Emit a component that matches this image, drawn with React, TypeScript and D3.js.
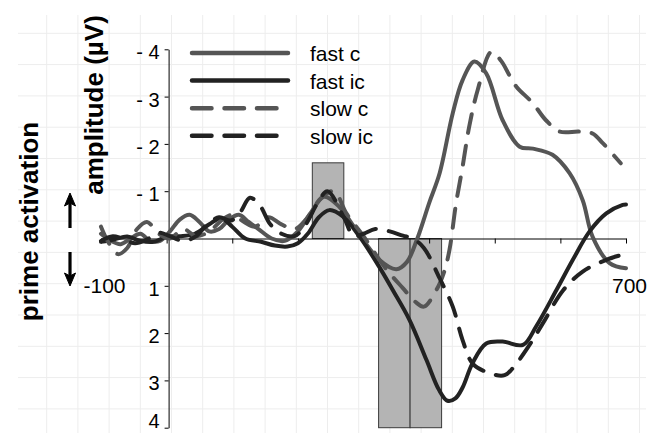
import { useEffect, useRef } from "react";
import * as d3 from "d3";

type Pt = [number, number]; // [time in ms, amplitude in µV]

const seriesNames = ["fast c", "fast ic", "slow c", "slow ic"];
const seriesColors = ["#555555", "#222222", "#555555", "#222222"];
const seriesDashed = [false, false, true, true];

const fastC: Pt[] = [
  [-100, -0.1], [-85, 0.05], [-70, 0.12], [-55, 0.0], [-40, -0.1], [-25, 0.05],
  [-10, 0.05], [5, -0.15], [20, -0.4], [35, -0.5], [50, -0.35], [65, -0.15],
  [80, -0.2], [95, -0.4], [110, -0.5], [125, -0.35], [140, -0.2], [160, 0.0],
  [180, 0.05], [200, -0.15], [220, -0.55], [240, -0.88], [263, -0.67], [289, -0.18],
  [324, 0.45], [350, 0.65], [366, 0.5], [382, 0.0], [400, -0.75], [416, -1.38],
  [436, -2.65], [451, -3.35], [469, -3.74], [487, -3.49], [512, -2.5], [538, -1.94],
  [558, -1.9], [588, -1.77], [614, -1.38], [634, -0.81], [649, -0.04], [675, 0.52],
  [700, 0.63],
];

const fastIc: Pt[] = [
  [-100, 0.07], [-80, 0.02], [-60, -0.04], [-40, 0.05], [-20, 0.07], [0, -0.04],
  [20, -0.05], [43, -0.1], [65, -0.3], [83, -0.43], [100, -0.25], [120, 0.0],
  [144, 0.07], [165, 0.15], [184, 0.17], [200, 0.1], [215, -0.1], [232, -0.45],
  [248, -0.6], [269, -0.46], [294, -0.04], [324, 0.6], [345, 1.1], [370, 1.72],
  [396, 2.57], [415, 3.2], [428, 3.43], [440, 3.38], [451, 3.15], [466, 2.64],
  [487, 2.22], [512, 2.18], [543, 2.25], [563, 1.86], [594, 1.09], [619, 0.45],
  [644, -0.14], [670, -0.53], [695, -0.71], [700, -0.72],
];

const slowC: Pt[] = [
  [-100, -0.25], [-88, 0.1], [-74, 0.33], [-60, 0.2], [-45, -0.2], [-30, -0.35],
  [-12, -0.1], [5, 0.0], [25, -0.2], [45, -0.05], [65, -0.15], [85, -0.4],
  [100, -0.5], [118, -0.35], [135, -0.25], [155, -0.45], [175, -0.3], [195, -0.2],
  [215, -0.45], [235, -0.85], [255, -1.0], [274, -0.53], [300, -0.05], [332, 0.6],
  [360, 1.05], [380, 1.35], [392, 1.44], [411, 1.09], [423, 0.7], [431, 0.24],
  [441, -0.74], [451, -1.52], [461, -2.36], [474, -3.14], [495, -3.95], [510, -3.75],
  [522, -3.46], [533, -3.21], [558, -2.86], [578, -2.5], [599, -2.26], [629, -2.26],
  [649, -2.22], [665, -2.01], [692, -1.59],
];

const slowIc: Pt[] = [
  [-100, 0.05], [-82, -0.05], [-65, 0.02], [-48, 0.1], [-30, 0.02], [-12, -0.12],
  [5, -0.05], [25, 0.05], [45, -0.05], [62, -0.3], [80, -0.45], [98, -0.38],
  [112, -0.55], [127, -0.86], [142, -0.7], [158, -0.3], [175, -0.1], [195, -0.05],
  [212, -0.3], [230, -0.75], [245, -1.0], [270, -0.45], [285, -0.05], [300, -0.1],
  [318, -0.2], [340, -0.15], [360, -0.06], [375, 0.0], [392, 0.2], [416, 0.84],
  [436, 1.44], [451, 2.15], [466, 2.64], [487, 2.82], [515, 2.89], [533, 2.64],
  [553, 2.25], [573, 1.8], [604, 1.1], [634, 0.7], [670, 0.45], [698, 0.33],
];

const allSeries = [fastC, fastIc, slowC, slowIc];

// prime activation bars (ms window, µV)
const barStart = [222, 323, 371];
const barEnd = [270, 371, 419];
const barValue = [-1.6, 4, 4];

const yTicks = [-4, -3, -2, -1, 1, 2, 3, 4];
const xTicks = [-100, 0, 100, 200, 300, 400, 500, 600, 700];
const xLabels = [-100, 700];

const FONT = "'Liberation Sans', Arial, sans-serif";

export default function App() {
  const ref = useRef<SVGSVGElement | null>(null);

  useEffect(() => {
    const width = 656,
      height = 433;
    const svg = d3.select(ref.current);
    svg.selectAll("*").remove();

    const x = d3.scaleLinear().domain([-100, 700]).range([101, 626]);
    const y = d3.scaleLinear().domain([-4, 4]).range([49.3, 427.7]);

    // faint paper grid in the background
    const grid = svg.append("g").attr("stroke", "#ededed").attr("stroke-width", 1);
    grid
      .selectAll("line.h")
      .data(d3.range(13))
      .enter()
      .append("line")
      .attr("x1", 18)
      .attr("x2", 646)
      .attr("y1", k => 33.3 + k * 31.3)
      .attr("y2", k => 33.3 + k * 31.3);
    grid
      .selectAll("line.v")
      .data(d3.range(20))
      .enter()
      .append("line")
      .attr("y1", 15)
      .attr("y2", height)
      .attr("x1", k => 46.7 + k * 31.2)
      .attr("x2", k => 46.7 + k * 31.2);

    // bars
    svg
      .append("g")
      .selectAll("rect")
      .data(barValue)
      .enter()
      .append("rect")
      .attr("x", (_, i) => x(barStart[i]))
      .attr("width", (_, i) => x(barEnd[i]) - x(barStart[i]))
      .attr("y", d => Math.min(y(0), y(d)))
      .attr("height", d => Math.abs(y(d) - y(0)))
      .attr("fill", "#b4b4b4")
      .attr("stroke", "#3a3a3a")
      .attr("stroke-width", 1);

    // X axis (ticks only, labels placed below)
    const xa = svg
      .append("g")
      .attr("transform", `translate(0,${y(0)})`)
      .call(
        d3
          .axisBottom(x)
          .tickValues(xTicks)
          .tickSize(5)
          .tickSizeOuter(0)
          .tickFormat(() => "")
      );
    xa.select(".domain").attr("stroke", "#000");

    svg
      .append("g")
      .selectAll("text")
      .data(xLabels)
      .enter()
      .append("text")
      .attr("x", d => x(d) + 3.5)
      .attr("y", y(0) + 54.5)
      .attr("text-anchor", "middle")
      .attr("font-family", FONT)
      .attr("font-size", 21)
      .text(d => String(d));

    // Y axis
    const ya = svg
      .append("g")
      .attr("transform", `translate(${x(3)},0)`)
      .call(
        d3
          .axisLeft(y)
          .tickValues(yTicks)
          .tickSize(4)
          .tickSizeOuter(0)
          .tickPadding(5)
          .tickFormat(d => ((d as number) < 0 ? `- ${Math.abs(d as number)}` : String(d)))
      );
    ya.selectAll<SVGTextElement, number>(".tick text")
      .attr("font-family", FONT)
      .attr("font-size", 20)
      .attr("fill", "#000")
      // the last label sits on the bottom edge, nudge it up so it stays visible
      .attr("dy", d => (d === 4 ? "0em" : "0.47em"));

    // curves
    const line = d3
      .line<Pt>()
      .x(d => x(d[0]))
      .y(d => y(d[1]))
      .curve(d3.curveCatmullRom.alpha(0.5));

    allSeries.forEach((s, i) => {
      svg
        .append("path")
        .datum(s)
        .attr("fill", "none")
        .attr("stroke", seriesColors[i])
        .attr("stroke-width", 4)
        .attr("stroke-linecap", "round")
        .attr("stroke-linejoin", "round")
        .attr("stroke-dasharray", seriesDashed[i] ? "19 13" : null)
        .attr("d", line);
    });

    // legend
    const lg = svg.append("g");
    seriesNames.forEach((name, i) => {
      const ly = 53 + i * 27.6;
      lg.append("line")
        .attr("x1", 192)
        .attr("x2", seriesDashed[i] ? 192 + 84.5 : 288)
        .attr("y1", ly)
        .attr("y2", ly)
        .attr("stroke", seriesColors[i])
        .attr("stroke-width", 4.5)
        .attr("stroke-linecap", "round")
        .attr("stroke-dasharray", seriesDashed[i] ? "19.5 13" : null);
      lg.append("text")
        .attr("x", 310)
        .attr("y", ly + 8)
        .attr("font-family", FONT)
        .attr("font-size", 21)
        .text(name);
    });

    // axis titles
    svg
      .append("text")
      .attr("transform", "translate(38,221.5) rotate(-90)")
      .attr("text-anchor", "middle")
      .attr("font-family", FONT)
      .attr("font-weight", "bold")
      .attr("font-size", 26)
      .text("prime activation");
    svg
      .append("text")
      .attr("transform", "translate(103,105) rotate(-90)")
      .attr("text-anchor", "middle")
      .attr("font-family", FONT)
      .attr("font-weight", "bold")
      .attr("font-size", 26)
      .text("amplitude (µV)");

    // direction arrows
    const arrows = svg.append("g").attr("stroke", "#000").attr("fill", "#000");
    arrows.append("line").attr("x1", 70).attr("x2", 70).attr("y1", 228).attr("y2", 200).attr("stroke-width", 3.2);
    arrows.append("path").attr("d", "M70,193 L64.5,206 L70,203 L75.5,206 Z").attr("stroke-width", 1);
    arrows.append("line").attr("x1", 70).attr("x2", 70).attr("y1", 252).attr("y2", 279).attr("stroke-width", 3.2);
    arrows.append("path").attr("d", "M70,286 L64.5,273 L70,276 L75.5,273 Z").attr("stroke-width", 1);

    svg.attr("width", width).attr("height", height);
  }, []);

  return (
    <svg
      ref={ref}
      width={656}
      height={433}
      style={{ position: "absolute", left: 0, top: 0, background: "#fff" }}
    />
  );
}
